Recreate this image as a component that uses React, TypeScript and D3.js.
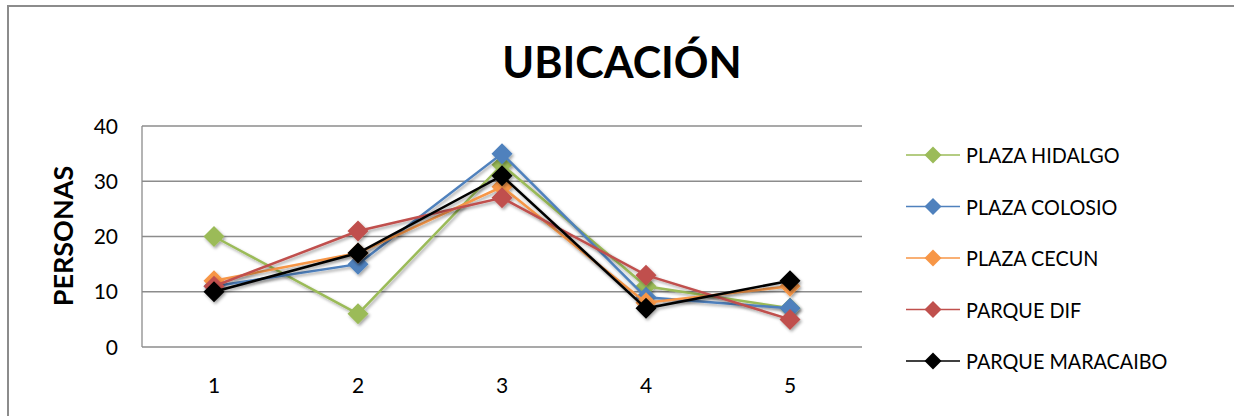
import React from "react";
import * as d3 from "d3";

const categories = ["1", "2", "3", "4", "5"];
const seriesNames = ["PLAZA HIDALGO", "PLAZA COLOSIO", "PLAZA CECUN", "PARQUE DIF", "PARQUE MARACAIBO"];
const plazaHidalgo = [20, 6, 33, 11, 7];
const plazaColosio = [11, 15, 35, 9, 7];
const plazaCecun = [12, 17, 29, 8, 11];
const parqueDif = [11, 21, 27, 13, 5];
const parqueMaracaibo = [10, 17, 31, 7, 12];
const yTicks = [0, 10, 20, 30, 40];
const colors = ["#9BBB59", "#4F81BD", "#F79646", "#C0504D", "#000000"];

const allSeries = [plazaHidalgo, plazaColosio, plazaCecun, parqueDif, parqueMaracaibo];

const W = 1234;
const H = 416;
const plot = { left: 142, right: 862, top: 126, bottom: 347 };
const font = "Lato, 'Open Sans', sans-serif";

export default function App() {
  const x = d3.scaleBand<string>().domain(categories).range([plot.left, plot.right]);
  const y = d3.scaleLinear().domain([0, 40]).range([plot.bottom, plot.top]);
  const cx = (c: string) => (x(c) as number) + x.bandwidth() / 2;
  const line = d3
    .line<number>()
    .x((_, i) => cx(categories[i]))
    .y((v) => y(v));
  const diamond = (px: number, py: number, r: number) =>
    `M${px},${py - r}L${px + r},${py}L${px},${py + r}L${px - r},${py}Z`;

  return (
    <svg width={W} height={H} style={{ position: "absolute", left: 0, top: 0, display: "block" }}>
      <defs>
        <filter id="sh" x="-20%" y="-20%" width="140%" height="140%">
          <feDropShadow dx="1.5" dy="2" stdDeviation="1.5" floodColor="#000" floodOpacity="0.35" />
        </filter>
      </defs>
      <rect x={0} y={0} width={W} height={H} fill="#fff" />
      <rect x={8} y={6} width={W + 20} height={H + 20} fill="#fff" stroke="#8c8c8c" strokeWidth={2} />
      <text x={622} y={78} textAnchor="middle" fontFamily={font} fontWeight="bold" fontSize={43} fill="#000">
        UBICACIÓN
      </text>
      {yTicks.map((t) => (
        <g key={t}>
          <line x1={plot.left} x2={plot.right} y1={y(t)} y2={y(t)} stroke="#8c8c8c" strokeWidth={1.3} />
          <text x={118} y={y(t) + 7.5} textAnchor="end" fontFamily={font} fontSize={21} fill="#000">
            {t}
          </text>
        </g>
      ))}
      <line x1={plot.left} x2={plot.left} y1={plot.top} y2={plot.bottom} stroke="#8c8c8c" strokeWidth={1.3} />
      {categories.map((c) => (
        <text key={c} x={cx(c)} y={393} textAnchor="middle" fontFamily={font} fontSize={21} fill="#000">
          {c}
        </text>
      ))}
      <text
        transform={`translate(73,236) rotate(-90)`}
        textAnchor="middle"
        fontFamily={font}
        fontWeight="bold"
        fontSize={27}
        fill="#000"
      >
        PERSONAS
      </text>
      {allSeries.map((s, si) => (
        <g key={si} filter="url(#sh)">
          <path d={line(s) as string} fill="none" stroke={colors[si]} strokeWidth={2.5} />
          {s.map((v, i) => (
            <path key={i} d={diamond(cx(categories[i]), y(v), 10.5)} fill={colors[si]} />
          ))}
        </g>
      ))}
      {seriesNames.map((n, si) => {
        const ly = 155 + si * 51.5;
        return (
          <g key={n}>
            <line x1={906} x2={960} y1={ly} y2={ly} stroke={colors[si]} strokeWidth={1.5} />
            <path d={diamond(933, ly, 8.5)} fill={colors[si]} />
            <text
              transform={`translate(966,${ly + 8}) scale(0.9,1)`}
              fontFamily={font}
              fontSize={22}
              fill="#000"
            >
              {n}
            </text>
          </g>
        );
      })}
    </svg>
  );
}
